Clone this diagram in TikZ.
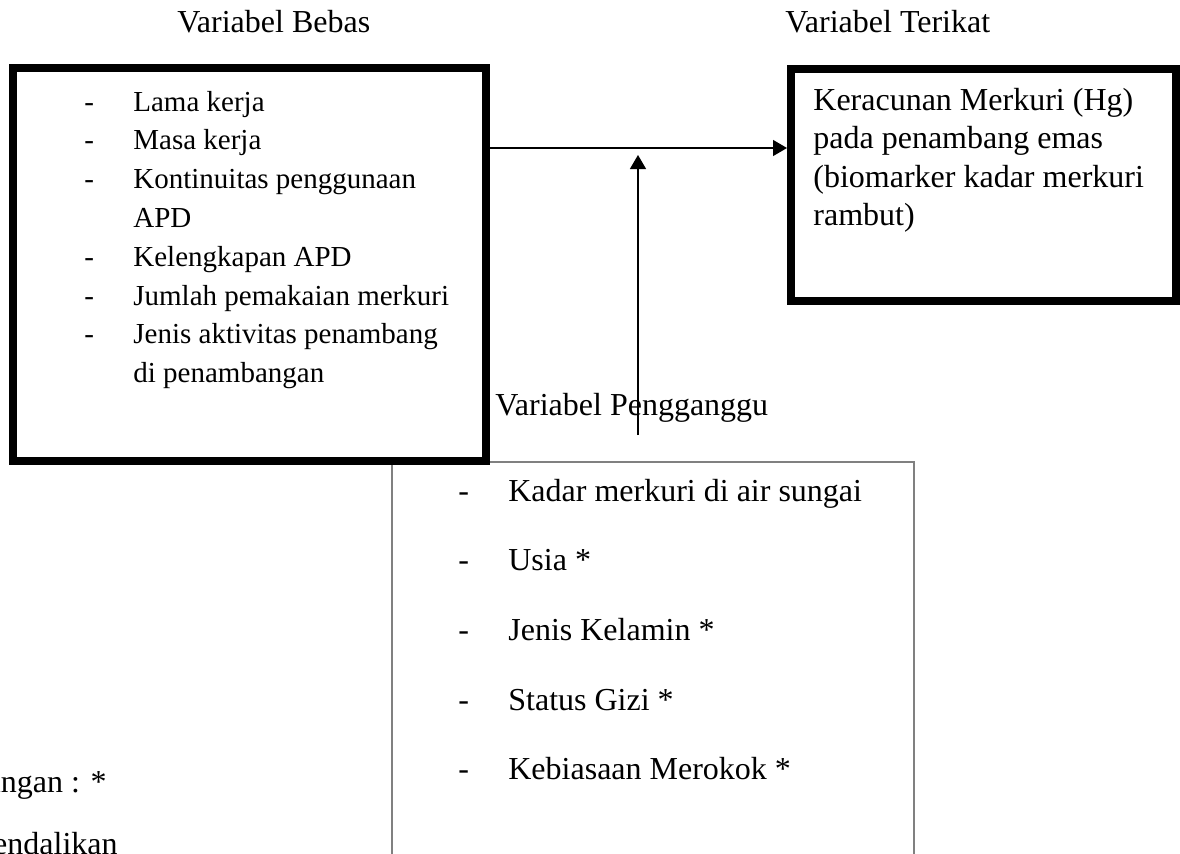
\documentclass[tikz,border=0pt]{standalone}
\usepackage{fontspec}
\setmainfont{Liberation Serif}
\usetikzlibrary{arrows.meta}

\begin{document}
\begin{tikzpicture}[x=0.5pt,y=-0.5pt,
  varbox/.style={draw,rectangle,line width=4pt,anchor=north west,inner sep=0pt},
  lbl/.style={anchor=base west,inner sep=0pt,font=\fontsize{16}{19.25}\selectfont},
  arr/.style={line width=0.65pt,-{Triangle[length=7pt,width=8pt]}}]
  \useasboundingbox (0,0) rectangle (1180,853);
  \node[draw=black!50,line width=0.75pt,rectangle,anchor=north west,inner sep=0pt,
        minimum width=261pt,minimum height=220pt] (ganggu) at (391,461) {};
  \node[varbox,minimum width=236.5pt,minimum height=196.5pt] (bebas) at (9,64) {};
  \node[varbox,minimum width=192.5pt,minimum height=116pt] (terikat) at (787,65) {};
  \node[lbl] (bebas-t) at (177,32) {Variabel Bebas};
  \node[lbl] (terikat-t) at (785,32) {Variabel Terikat};
  \node[lbl] (ganggu-t) at (495,415) {Variabel Pengganggu};
  \node[anchor=base west,inner sep=0pt,font=\fontsize{14.5}{19.4}\selectfont] (bebas-l) at (84,111)
    {\begin{tabular}[t]{@{}p{24.5pt}@{}l@{}}
      - & Lama kerja\\
      - & Masa kerja\\
      - & Kontinuitas penggunaan\\
        & APD\\
      - & Kelengkapan APD\\
      - & Jumlah pemakaian merkuri\\
      - & Jenis aktivitas penambang\\
        & di penambangan
    \end{tabular}};
  \node[lbl] (terikat-l) at (813,110)
    {\begin{tabular}[t]{@{}l@{}}
      Keracunan Merkuri (Hg)\\
      pada penambang emas\\
      (biomarker kadar merkuri\\
      rambut)
    \end{tabular}};
  \node[anchor=base west,inner sep=0pt,font=\fontsize{16}{34.85}\selectfont] (ganggu-l) at (458,501)
    {\begin{tabular}[t]{@{}p{25pt}@{}l@{}}
      - & Kadar merkuri di air sungai\\
      - & Usia *\\
      - & Jenis Kelamin *\\
      - & Status Gizi *\\
      - & Kebiasaan Merokok *
    \end{tabular}};
  \node[lbl,anchor=base east] (ket-1) at (107,792) {angan : *};
  \node[lbl,anchor=base east] (ket-2) at (118,854) {endalikan};
  \coordinate (h-y) at (638,148);
  \coordinate (v-foot) at (638,435);
  \coordinate (v-tip) at (638,155);
  \draw[arr] (bebas.east |- h-y) -- (terikat.west |- h-y);
  \draw[arr] (v-foot) -- (v-tip);
\end{tikzpicture}
\end{document}
